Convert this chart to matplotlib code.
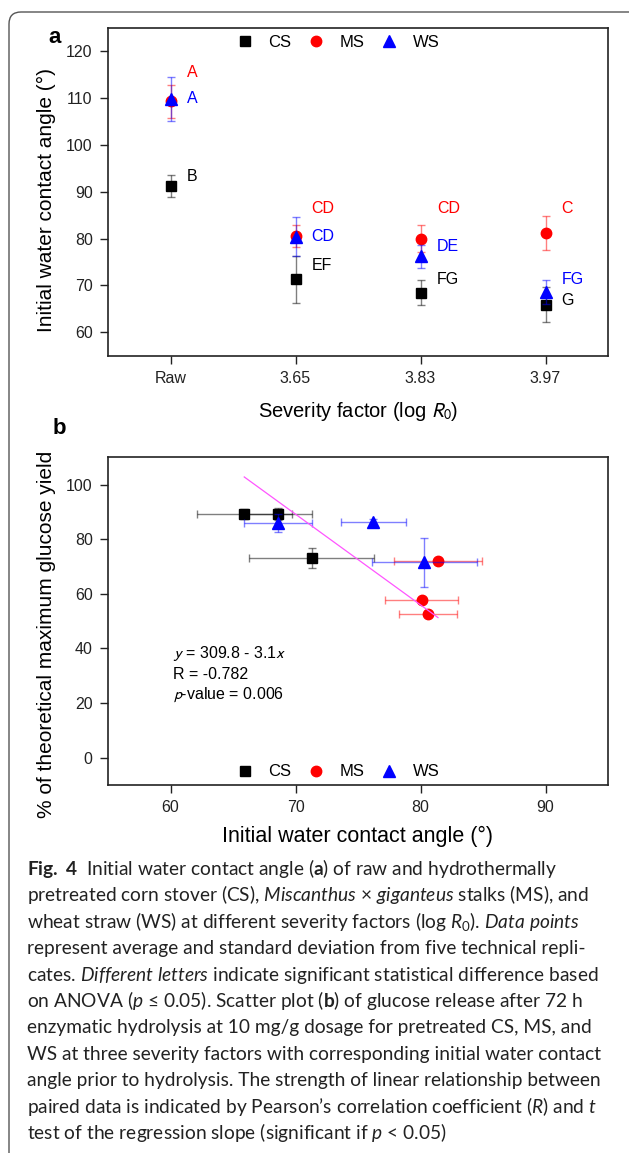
import numpy as np
import matplotlib.pyplot as plt
from matplotlib.patches import FancyBboxPatch
from matplotlib.transforms import IdentityTransform

plt.rcParams['font.family'] = ['Liberation Sans', 'DejaVu Sans']
plt.rcParams['mathtext.fontset'] = 'custom'
plt.rcParams['mathtext.rm'] = 'Lato'
plt.rcParams['mathtext.it'] = 'Lato:italic'
plt.rcParams['mathtext.bf'] = 'Lato:bold'

# panel a: initial water contact angle vs severity factor
severity = ['Raw', '3.65', '3.83', '3.97']
cs_angle = [91.2, 71.3, 68.4, 65.9]
cs_sd = [2.3, 5.0, 2.65, 3.8]
ms_angle = [109.3, 80.6, 80.0, 81.2]
ms_sd = [3.5, 2.35, 2.9, 3.55]
ws_angle = [109.7, 80.4, 76.2, 68.6]
ws_sd = [4.7, 4.1, 2.5, 2.6]
cs_letters = ['B', 'EF', 'FG', 'G']
ms_letters = ['A', 'CD', 'CD', 'C']
ws_letters = ['A', 'CD', 'DE', 'FG']

# panel b: glucose yield vs contact angle (pretreated only)
cs_x = [71.3, 68.6, 65.9]
cs_xerr = [5.0, 2.7, 3.8]
cs_y = [73.2, 89.3, 89.3]
cs_yerr = [3.6, 2.2, 1.9]
ms_x = [80.6, 80.1, 81.4]
ms_xerr = [2.3, 2.9, 3.5]
ms_y = [52.6, 57.8, 72.1]
ms_yerr = [0.8, 0.8, 0.8]
ws_x = [80.3, 76.2, 68.6]
ws_xerr = [4.2, 2.6, 2.7]
ws_y = [71.5, 86.3, 86.1]
ws_yerr = [9.1, 1.0, 3.3]
fit_x = [65.9, 81.4]
fit_y = [102.8, 51.3]

# where the letters sit (layout, not data)
cs_letter_y = [93.3, 74.3, 71.3, 66.7]
ms_letter_y = [115.4, 86.4, 86.4, 86.4]
ws_letter_y = [109.9, 80.4, 78.2, 71.3]

W, H = 629, 1153
fig = plt.figure(figsize=(W / 100, H / 100), dpi=100)

# rounded frame round the whole figure
frame = FancyBboxPatch((9, -60), 700, H - 12 + 60, boxstyle='round,pad=0,rounding_size=12',
                       transform=IdentityTransform(), fill=False, edgecolor='#555555', lw=1.0)
fig.patches.append(frame)

series = [
    ('CS', 'black', 's', 6.8),
    ('MS', 'red', 'o', 7.5),
    ('WS', 'blue', '^', 8.5),
]


def style_axes(ax):
    for sp in ax.spines.values():
        sp.set_linewidth(1.2)
        sp.set_color('#222222')
    ax.tick_params(direction='out', length=6, width=1, pad=5, labelsize=11.5,
                   colors='#222222', top=False, right=False)


# ---- panel a ----
ax1 = fig.add_axes([108 / W, 1 - 355.7 / H, 500 / W, 328 / H])
xpos = np.arange(len(severity))
for (name, col, mk, ms), vals, sd, lets, ly in zip(
        series, [cs_angle, ms_angle, ws_angle], [cs_sd, ms_sd, ws_sd],
        [cs_letters, ms_letters, ws_letters], [cs_letter_y, ms_letter_y, ws_letter_y]):
    ax1.errorbar(xpos, vals, yerr=sd, fmt='none', ecolor=col, alpha=0.5, elinewidth=1,
                 capsize=3, capthick=1)
    ax1.plot(xpos, vals, ls='none', marker=mk, ms=ms, color=col, label=name)
    for xi, t, yy in zip(xpos, lets, ly):
        ax1.text(xi + 0.13, yy, t, color=col, fontsize=11.5, ha='left', va='center')

ax1.set_xlim(-0.5, 3.5)
ax1.set_ylim(55, 125)
ax1.set_xticks(xpos)
ax1.set_xticklabels(severity)
ax1.set_yticks(np.arange(60, 121, 10))
style_axes(ax1)
ax1.set_ylabel('Initial water contact angle (°)', fontsize=15)
ax1.set_xlabel(r'Severity factor (log $\mathit{R_0}$)', fontsize=14.5, math_fontfamily='stixsans')
ax1.yaxis.set_label_coords(-0.104, 0.475)
ax1.xaxis.set_label_coords(0.5, -0.135)
ax1.legend(loc='center', bbox_to_anchor=(0.46, 0.954), ncol=3, frameon=False, fontsize=12,
           handlelength=1.0, handletextpad=0.9, columnspacing=1.0, borderpad=0)

# ---- panel b ----
ax2 = fig.add_axes([108 / W, 1 - 785 / H, 500 / W, 327.7 / H])
for (name, col, mk, ms), x, xe, y, ye in zip(
        series, [cs_x, ms_x, ws_x], [cs_xerr, ms_xerr, ws_xerr],
        [cs_y, ms_y, ws_y], [cs_yerr, ms_yerr, ws_yerr]):
    ax2.errorbar(x, y, xerr=xe, yerr=ye, fmt='none', ecolor=col, alpha=0.5, elinewidth=1,
                 capsize=3, capthick=1)
    ax2.plot(x, y, ls='none', marker=mk, ms=ms, color=col, label=name)
ax2.plot(fit_x, fit_y, color='#ff55ff', lw=0.9)

ax2.text(60.2, 38, r'$\mathit{y}$ = 309.8 - 3.1$\mathit{x}$', fontsize=11.5, va='center',
         math_fontfamily='stixsans')
ax2.text(60.2, 30.3, 'R = -0.782', fontsize=11.5, va='center')
ax2.text(60.2, 23, r'$\mathit{p}$-value = 0.006', fontsize=11.5, va='center',
         math_fontfamily='stixsans')

ax2.set_xlim(55, 95)
ax2.set_ylim(-10, 110)
ax2.set_xticks([60, 70, 80, 90])
ax2.set_yticks(np.arange(0, 101, 20))
style_axes(ax2)
ax2.set_ylabel('% of theoretical maximum glucose yield', fontsize=15)
ax2.set_xlabel('Initial water contact angle (°)', fontsize=15.5)
ax2.yaxis.set_label_coords(-0.104, 0.46)
ax2.xaxis.set_label_coords(0.5, -0.125)
ax2.legend(loc='center', bbox_to_anchor=(0.46, 0.04), ncol=3, frameon=False, fontsize=12,
           handlelength=1.0, handletextpad=0.9, columnspacing=1.0, borderpad=0)

fig.text(55 / W, 1 - 37.5 / H, 'a', fontsize=16, fontweight='bold', ha='center', va='center')
fig.text(59 / W, 1 - 428 / H, 'b', fontsize=16, fontweight='bold', ha='center', va='center')

# ---- caption ----
caption = [
    r'$\mathbf{Fig.\ 4}$  Initial water contact angle ($\mathbf{a}$) of raw and hydrothermally',
    r'pretreated corn stover (CS), $\mathit{Miscanthus}$ × $\mathit{giganteus}$ stalks (MS), and',
    r'wheat straw (WS) at different severity factors (log $\mathit{R}_{\mathrm{0}}$). $\mathit{Data\ points}$',
    'represent average and standard deviation from five technical repli-',
    r'cates. $\mathit{Different\ letters}$ indicate significant statistical difference based',
    r'on ANOVA ($\mathit{p}$ ≤ 0.05). Scatter plot ($\mathbf{b}$) of glucose release after 72 h',
    'enzymatic hydrolysis at 10 mg/g dosage for pretreated CS, MS, and',
    'WS at three severity factors with corresponding initial water contact',
    'angle prior to hydrolysis. The strength of linear relationship between',
    r'paired data is indicated by Pearson’s correlation coefficient ($\mathit{R}$) and $\mathit{t}$',
    r'test of the regression slope (significant if $\mathit{p}$ < 0.05)',
]
for i, line in enumerate(caption):
    fig.text(27 / W, 1 - (875 + 26.4 * i) / H, line, fontsize=13.8, color='#222222',
             family=['Lato', 'DejaVu Sans'], ha='left', va='baseline')

fig.savefig('out.png', dpi=100)
